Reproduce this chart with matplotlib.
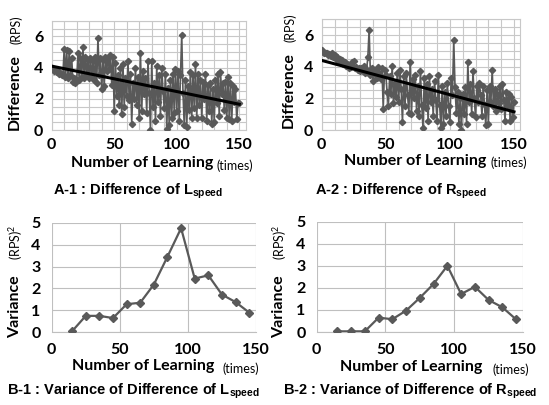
import numpy as np
import matplotlib
matplotlib.use("Agg")
import matplotlib.pyplot as plt
from matplotlib.ticker import MultipleLocator

plt.rcParams['mathtext.fontset'] = 'custom'
plt.rcParams['mathtext.rm'] = 'Liberation Sans'
plt.rcParams['mathtext.default'] = 'regular'

# --- Datos ---
diff_L = [4.0, 3.9, 3.8, 3.85, 3.7, 3.75, 3.6, 3.65, 3.5, 3.6,
          5.2, 3.4, 5.1, 3.3, 5.05, 3.5, 4.6, 3.1, 3.3, 3.0,
          3.2, 4.9, 3.2, 4.6, 3.4, 5.3, 3.3, 4.7, 3.6, 4.5,
          3.3, 4.6, 3.4, 4.4, 3.2, 4.7, 3.0, 5.9, 3.5, 4.6,
          2.6, 4.5, 2.8, 4.7, 3.8, 4.6, 3.9, 4.8, 2.9, 4.7,
          1.2, 4.3, 2.2, 3.5, 1.6, 4.0, 1.0, 4.2, 1.5, 3.3,
          2.2, 4.4, 1.9, 3.6, 0.4, 3.0, 2.0, 4.0, 1.6, 3.4,
          0.8, 4.95, 1.2, 3.8, 2.3, 3.3, 1.1, 4.4, 2.4, 0.0,
          4.4, 1.5, 3.0, 0.6, 4.1, 1.8, 3.5, 0.9, 4.0, 2.5,
          1.4, 3.6, 0.05, 2.7, 0.3, 3.2, 0.8, 3.6, 1.1, 3.9,
          1.2, 3.8, 0.6, 3.5, 6.1, 2.4, 0.3, 3.2, 0.2, 2.8,
          1.3, 3.7, 0.8, 3.5, 1.4, 4.2, 0.8, 3.6, 1.6, 3.2,
          0.8, 3.1, 2.0, 3.6, 0.6, 2.9, 1.2, 3.0, 0.4, 2.6,
          0.5, 3.2, 1.7, 3.6, 0.9, 3.7, 2.3, 3.0, 1.3, 3.1,
          0.8, 3.4, 0.7, 3.0, 0.6, 2.8, 1.8, 2.6, 0.7, 1.7,
          1.7]

diff_R = [5.05, 4.95, 4.9, 4.85, 4.9, 4.75, 4.8, 4.7, 4.85, 4.6,
          4.75, 4.5, 4.6, 4.4, 4.5, 4.3, 4.45, 4.2, 4.3, 4.05,
          4.2, 3.9, 4.1, 4.0, 4.3, 4.35, 3.9, 4.0, 3.8, 3.95,
          3.7, 3.9, 3.75, 4.05, 3.6, 3.8, 4.6, 6.35, 3.5, 3.95,
          3.1, 3.8, 3.5, 3.3, 4.0, 3.6, 3.2, 3.9, 1.35, 3.8,
          3.5, 2.4, 1.5, 3.4, 2.3, 4.05, 1.7, 3.0, 2.1, 3.6,
          1.8, 3.8, 2.6, 0.5, 3.4, 1.5, 3.6, 2.2, 1.1, 4.3,
          1.0, 3.2, 2.0, 3.5, 1.2, 2.8, 0.9, 3.75, 1.6, 0.15,
          3.3, 1.4, 2.9, 0.6, 3.4, 1.8, 2.6, 0.9, 3.1, 1.9,
          0.6, 3.5, 1.6, 0.1, 2.8, 0.4, 2.4, 0.9, 3.0, 1.5,
          0.5, 3.3, 2.2, 5.7, 2.7, 1.1, 2.4, 0.4, 2.0, 0.0,
          2.3, 1.0, 2.7, 0.4, 4.3, 1.8, 2.9, 1.0, 3.7, 2.0,
          0.8, 2.8, 1.8, 3.0, 2.2, 0.9, 2.8, 1.6, 0.3, 2.5,
          0.4, 2.8, 1.8, 3.8, 1.5, 2.6, 1.2, 2.3, 1.7, 2.8,
          1.3, 2.9, 1.9, 0.6, 2.4, 1.5, 2.3, 0.6, 2.1, 0.8,
          1.8]

learn_x = np.arange(len(diff_L))

var_x = [15, 25, 35, 45, 55, 65, 75, 85, 95, 105, 115, 125, 135, 145]
var_L = [0.05, 0.75, 0.75, 0.65, 1.28, 1.35, 2.18, 3.45, 4.75, 2.45, 2.6, 1.72, 1.38, 0.9]
var_R = [0.03, 0.03, 0.03, 0.65, 0.58, 0.97, 1.55, 2.18, 3.0, 1.72, 2.05, 1.45, 1.12, 0.57]

W, H = 549, 405
fig = plt.figure(figsize=(W / 100, H / 100), dpi=100)


def rect(x0, x1, y_top, y_bot):
    return [x0 / W, 1 - y_bot / H, (x1 - x0) / W, (y_bot - y_top) / H]


def ftext(x, y, s, **kw):
    fig.text(x / W, 1 - y / H, s, **kw)


line_col = '#595959'
grid_col = '#c8c8c8'
tick_font = dict(family='Lato', weight='bold', size=11.5)


def difference_axes(pos, y):
    ax = fig.add_axes(pos)
    ax.plot(learn_x, y, '-', color=line_col, lw=1.2, marker='D', ms=3.2, zorder=3)
    # línea de tendencia lineal
    k, b = np.polyfit(learn_x, y, 1)
    ax.plot([0, 150], [b, b + 150 * k], color='black', lw=2.2, zorder=4)
    ax.set_xlim(0, 155)
    ax.set_ylim(0, 7)
    ax.set_xticks([0, 50, 100, 150])
    ax.set_yticks([0, 2, 4, 6])
    ax.xaxis.set_minor_locator(MultipleLocator(10))
    ax.yaxis.set_minor_locator(MultipleLocator(0.5))
    ax.grid(True, which='both', color=grid_col, lw=0.8)
    ax.set_axisbelow(True)
    for s in ax.spines.values():
        s.set_color(grid_col)
    ax.tick_params(which='both', length=0, pad=6)
    for lab in ax.get_xticklabels() + ax.get_yticklabels():
        lab.set(**tick_font)
    return ax


def variance_axes(pos, y):
    ax = fig.add_axes(pos)
    ax.plot(var_x, y, '-', color=line_col, lw=1.6, marker='D', ms=3.8, zorder=3)
    ax.set_xlim(0, 150)
    ax.set_ylim(0, 5)
    ax.set_xticks([0, 50, 100, 150])
    ax.set_yticks([0, 1, 2, 3, 4, 5])
    ax.grid(True, color='#bfbfbf', lw=0.8)
    ax.set_axisbelow(True)
    for side in ['top', 'right', 'left']:
        ax.spines[side].set_visible(False)
    ax.spines['bottom'].set_color('#bfbfbf')
    ax.tick_params(length=0, pad=8)
    for lab in ax.get_xticklabels() + ax.get_yticklabels():
        lab.set(**tick_font)
    return ax


difference_axes(rect(51.7, 245.5, 20.7, 130), diff_L)
difference_axes(rect(321.7, 520.4, 19.3, 130), diff_R)
variance_axes(rect(51.7, 256, 222.7, 332.3), var_L)
variance_axes(rect(316.7, 523, 221.7, 332), var_R)

lab_b = dict(family='Lato', weight='bold', size=11.5)
lab_n = dict(family='Lato', size=9)

# etiquetas de ejes
ftext(142, 163, 'Number of Learning', ha='center', va='center', **lab_b)
ftext(235, 166, '(times)', ha='center', va='center', **lab_n)
ftext(415, 161, 'Number of Learning', ha='center', va='center', **lab_b)
ftext(509, 163, '(times)', ha='center', va='center', **lab_n)
ftext(143, 366, 'Number of Learning', ha='center', va='center', **lab_b)
ftext(241, 369, '(times)', ha='center', va='center', **lab_n)
ftext(411, 367, 'Number of Learning', ha='center', va='center', **lab_b)
ftext(511, 370, '(times)', ha='center', va='center', **lab_n)

ftext(15, 92, 'Difference', rotation=90, ha='center', va='center', **lab_b)
ftext(16, 30, '(RPS)', rotation=90, ha='center', va='center', **lab_n)
ftext(289, 90, 'Difference', rotation=90, ha='center', va='center', **lab_b)
ftext(290, 28, '(RPS)', rotation=90, ha='center', va='center', **lab_n)
ftext(15, 307, 'Variance', rotation=90, ha='center', va='center', **lab_b)
ftext(16, 242, '(RPS)$^2$', rotation=90, ha='center', va='center', **lab_n)
ftext(279, 307, 'Variance', rotation=90, ha='center', va='center', **lab_b)
ftext(280, 242, '(RPS)$^2$', rotation=90, ha='center', va='center', **lab_n)

# títulos de cada panel
title_font = dict(family='Liberation Sans', weight='bold', size=10.5)
ftext(138, 191, 'A-1 : Difference of L$_{speed}$', ha='center', va='center', **title_font)
ftext(401, 191, 'A-2 : Difference of R$_{speed}$', ha='center', va='center', **title_font)
ftext(133, 391, 'B-1 : Variance of Difference of L$_{speed}$', ha='center', va='center', **title_font)
ftext(410, 391, 'B-2 : Variance of Difference of R$_{speed}$', ha='center', va='center', **title_font)

fig.savefig('out.png', dpi=100)
